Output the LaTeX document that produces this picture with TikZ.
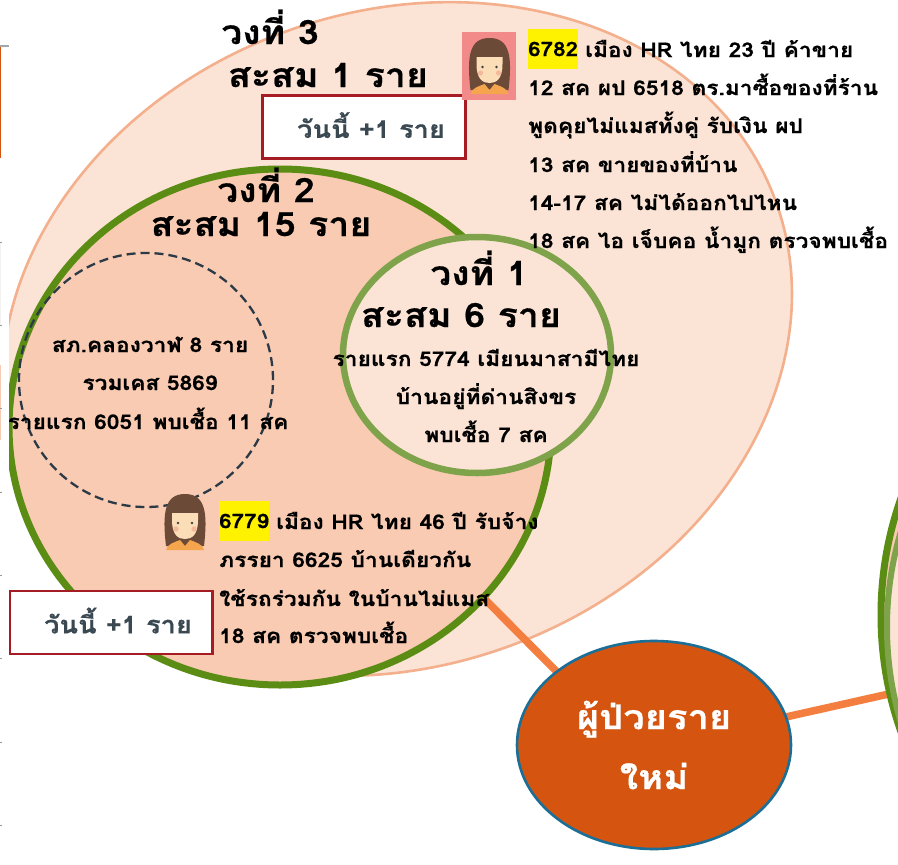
\documentclass[tikz,border=0pt]{standalone}
\usepackage{fontspec}
\setmainfont[Script=Thai,FakeStretch=1.12,BoldFeatures={FakeBold=0.5}]{Loma}
\usetikzlibrary{shapes.geometric}
\pgfdeclarelayer{backl}
\pgfdeclarelayer{midl}
\pgfsetlayers{backl,midl,main}
\definecolor{ringA}{HTML}{FBE4D6}
\definecolor{ringB}{HTML}{F8CBB2}
\definecolor{edgeA}{HTML}{F4B08C}
\definecolor{greenD}{HTML}{5B8C14}
\definecolor{greenL}{HTML}{7FA34A}
\definecolor{conn}{HTML}{F47E40}
\definecolor{newc}{HTML}{D55510}
\definecolor{newb}{HTML}{1B6E96}
\definecolor{slateT}{HTML}{3A4852}
\definecolor{dashc}{HTML}{2B3A46}
\definecolor{redb}{HTML}{A51C24}
\definecolor{skin}{HTML}{FBDDB8}
\definecolor{hair}{HTML}{6B4A38}
\definecolor{shirt}{HTML}{F5A54E}
\definecolor{pinkbg}{HTML}{F28A8A}
\definecolor{blush}{HTML}{F3B99A}
\tikzset{
 x=1pt,y=-1pt,
 ring/.style={ellipse,inner sep=0pt,outer sep=0pt},
 ttl/.style={font=\fontsize{33.5}{33.5}\selectfont\bfseries,text=black,inner sep=0pt,anchor=base},
 body/.style={font=\fontsize{20.3}{20.3}\selectfont\bfseries,text=black,inner sep=0pt,anchor=base},
 lft/.style={body,anchor=base west},
 hl/.style={fill=yellow,minimum width=49pt,minimum height=40pt,inner sep=0pt,anchor=west,font=\fontsize{20}{20}\selectfont\bfseries},
 today/.style={draw=redb,line width=2.4pt,fill=white,minimum width=203pt,minimum height=63pt,inner sep=0pt,outer sep=0pt,text=slateT,font=\fontsize{24.3}{24.3}\selectfont\bfseries},
 link/.style={conn,line width=7.5pt},
}
\newcommand{\personpic}[2]{%
 \begin{scope}[shift={(#1,#2)}]
  \fill[hair] (-19,24) .. controls (-23,-10) and (-20,-28) .. (0,-28) .. controls (20,-28) and (23,-10) .. (19,24) -- cycle;
  \fill[skin] (-13,-2) .. controls (-13,14) and (-6,17) .. (0,17) .. controls (6,17) and (13,14) .. (13,-2) -- (13,-9) -- (-13,-9) -- cycle;
  \fill[blush] (-9,7) circle (2.6) (9,7) circle (2.6);
  \fill[shirt] (-19,28) .. controls (-18,22) and (-10,20) .. (-5,18) -- (0,24) -- (5,18) .. controls (10,20) and (18,22) .. (19,28) -- cycle;
  \fill[black!75] (-7,1) circle (1.3) (7,1) circle (1.3);
 \end{scope}}
\begin{document}
\begin{tikzpicture}
\useasboundingbox (0,0) rectangle (898,865);
\begin{pgfonlayer}{backl}
\fill[white] (0,0) rectangle (898,865);
\fill[gray!70] (0,45) rectangle (9,47);
\fill[newc] (0,47) rectangle (1,158);
\fill[gray!10] (0,242) rectangle (1,325);
\fill[ringB] (0,365) rectangle (1,440);
\foreach \yy in {242,325,408,492,575,658,742,825} \fill[gray!80] (0,\yy) rectangle (1.5,\yy+1);
\clip (9,0) rectangle (898,865);
\node[ring,draw=edgeA,line width=2.6pt,fill=ringA,minimum width=806pt,minimum height=654pt,rotate=20] (ring3) at (397,339) {};
\node[ring,draw=greenD,line width=7pt,fill=ringB,minimum width=542pt,minimum height=516pt] (ring2) at (280,427) {};
\node[ring,draw=greenL,line width=6.5pt,fill=ringA,minimum width=268pt,minimum height=236pt] (ring1) at (477,355) {};
\node[ring,draw=dashc,line width=2.3pt,dash pattern=on 9pt off 5pt,minimum width=254pt,minimum height=254pt] (cluster) at (146,380) {};
\end{pgfonlayer}
\begin{scope}
\clip (9,0) rectangle (898,865);
\node[ring,draw=newb,line width=2.6pt,fill=newc,minimum width=274pt,minimum height=208pt,text=white,align=center,font=\fontsize{34}{60}\selectfont\bfseries] (newcase) at (654,745) {ผู้ป่วยราย\\ใหม่};
\node[ring,draw=greenD,line width=7pt,fill=ringB,minimum size=700pt] (farO) at (1231,615) {};
\node[ring,draw=greenL,line width=6pt,fill=ringA,minimum size=668pt] (farI) at (1221,627) {};
\node[ttl] (t3a) at (270,44) {วงที่ 3};
\node[ttl] (t3b) at (328,87) {สะสม 1 ราย};
\node[today] (box3) at (364,127) {\hspace{14pt}\raisebox{4pt}{วันนี้ +1 ราย}};
\node[ttl] (t2a) at (266,202) {วงที่ 2};
\node[ttl] (t2b) at (261,236) {สะสม 15 ราย};
\node[ttl] (t1a) at (479,285) {วงที่ 1};
\node[ttl] (t1b) at (461,327) {สะสม 6 ราย};
\node[body] (c1) at (486,366) {รายแรก 5774 เมียนมาสามีไทย};
\node[body] (c2) at (486,404) {บ้านอยู่ที่ด่านสิงขร};
\node[body] (c3) at (486,442) {พบเชื้อ 7 สค};
\node[body] (d1) at (150,352) {สภ.คลองวาฬ 8 ราย};
\node[body] (d2) at (150,390) {รวมเคส 5869};
\node[body] (d3) at (148,429) {รายแรก 6051 พบเชื้อ 11 สค};
\fill[pinkbg] (462,32) rectangle (516,100);
\personpic{489.5}{66}
\personpic{185}{522}
\node[hl] (id1) at (528,49) {6782};
\node[lft] (a1) at (585,57) {เมือง HR ไทย 23 ปี ค้าขาย};
\node[lft] (a2) at (528,95) {12 สค ผป 6518 ตร.มาซื้อของที่ร้าน};
\node[lft] (a3) at (528,133) {พูดคุยไม่แมสทั้งคู่ รับเงิน ผป};
\node[lft] (a4) at (528,172) {13 สค ขายของที่บ้าน};
\node[lft] (a5) at (528,210) {14-17 สค ไม่ได้ออกไปไหน};
\node[lft] (a6) at (528,248) {18 สค ไอ เจ็บคอ น้ำมูก ตรวจพบเชื้อ};
\node[hl] (id2) at (219,521) {6779};
\node[lft] (b1) at (276,529) {เมือง HR ไทย 46 ปี รับจ้าง};
\node[lft] (b2) at (219,567) {ภรรยา 6625 บ้านเดียวกัน};
\node[lft] (b3) at (219,606) {ใช้รถร่วมกัน ในบ้านไม่แมส};
\node[lft] (b4) at (219,643) {18 สค ตรวจพบเชื้อ};
\node[today] (box2) at (111,622.5) {\hspace{14pt}\raisebox{4pt}{วันนี้ +1 ราย}};
\end{scope}
\begin{pgfonlayer}{midl}
\clip (9,0) rectangle (898,865);
\draw[link] (ring2.-40) -- (newcase.143);
\draw[link] (newcase.12) -- (farO.193.6);
\end{pgfonlayer}
\end{tikzpicture}
\end{document}
